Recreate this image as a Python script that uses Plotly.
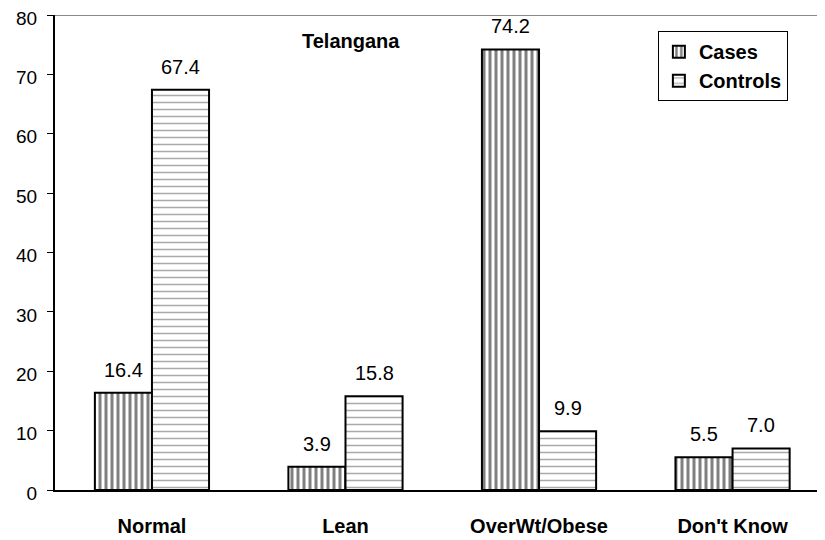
import plotly.graph_objects as go

categories = ["Normal", "Lean", "OverWt/Obese", "Don't Know"]
cases = [16.4, 3.9, 74.2, 5.5]
controls = [67.4, 15.8, 9.9, 7.0]
y_ticks = [0, 10, 20, 30, 40, 50, 60, 70, 80]
title_text = "Telangana"

FONT = "Liberation Sans, Arial, sans-serif"
xs = list(range(len(categories)))
W = 0.295

fig = go.Figure()
fig.add_trace(go.Bar(
    name="<b>Cases</b>", x=xs, y=cases, width=W, offset=-W, legendgroup="a",
    marker=dict(color="white", line=dict(color="black", width=2),
                pattern=dict(shape="|", fgcolor="black", bgcolor="white", size=6, solidity=0.5)),
))
fig.add_trace(go.Bar(
    name="<b>Controls</b>", x=xs, y=controls, width=W, offset=0, legendgroup="b",
    marker=dict(color="white", line=dict(color="black", width=2),
                pattern=dict(shape="-", fgcolor="#555555", bgcolor="white", size=7, solidity=0.22)),
))

for i, v in enumerate(cases):
    fig.add_annotation(x=i - W / 2, y=v, text=f"{v:.1f}", showarrow=False,
                       yanchor="bottom", yshift=10, font=dict(family=FONT, size=20, color="black"))
for i, v in enumerate(controls):
    fig.add_annotation(x=i + W / 2, y=v, text=f"{v:.1f}", showarrow=False,
                       yanchor="bottom", yshift=10, font=dict(family=FONT, size=20, color="black"))

fig.add_annotation(xref="paper", yref="paper", x=0.380, y=0.945, text=f"<b>{title_text}</b>",
                   showarrow=False, xanchor="center", yanchor="middle",
                   font=dict(family=FONT, size=20, color="black"))

fig.add_shape(type="line", xref="paper", yref="y", x0=0, x1=1, y0=80, y1=80,
              line=dict(color="#888888", width=2))

fig.update_layout(
    width=825, height=540,
    margin=dict(l=47, r=0, t=7, b=58),
    paper_bgcolor="white", plot_bgcolor="white",
    barmode="overlay",
    showlegend=True,
    legend=dict(x=0.942, y=0.966, xanchor="right", yanchor="top",
                bordercolor="black", borderwidth=1, bgcolor="white",
                font=dict(family=FONT, size=20, color="black"),
                itemwidth=30, tracegroupgap=0, traceorder="grouped"),
    font=dict(family=FONT, size=20, color="black"),
)
fig.update_xaxes(
    range=[-0.501, 3.519], tickvals=xs,
    ticktext=[f"<b>{c}</b>" for c in categories],
    showline=True, linecolor="black", linewidth=2,
    ticks="", showgrid=False, zeroline=False, automargin=False,
    ticklabelstandoff=17, ticklabeloverflow="allow",
    tickfont=dict(family=FONT, size=20, color="black"),
)
fig.update_yaxes(
    range=[0, 80], tickvals=y_ticks,
    showline=True, linecolor="black", linewidth=2,
    ticks="outside", ticklen=6, tickcolor="black", tickwidth=1,
    showgrid=False, zeroline=False, automargin=False,
    ticklabelstandoff=6, ticklabeloverflow="allow", ticklabelshift=3,
    tickfont=dict(family=FONT, size=19, color="black"),
)

fig.write_html("out.html")
